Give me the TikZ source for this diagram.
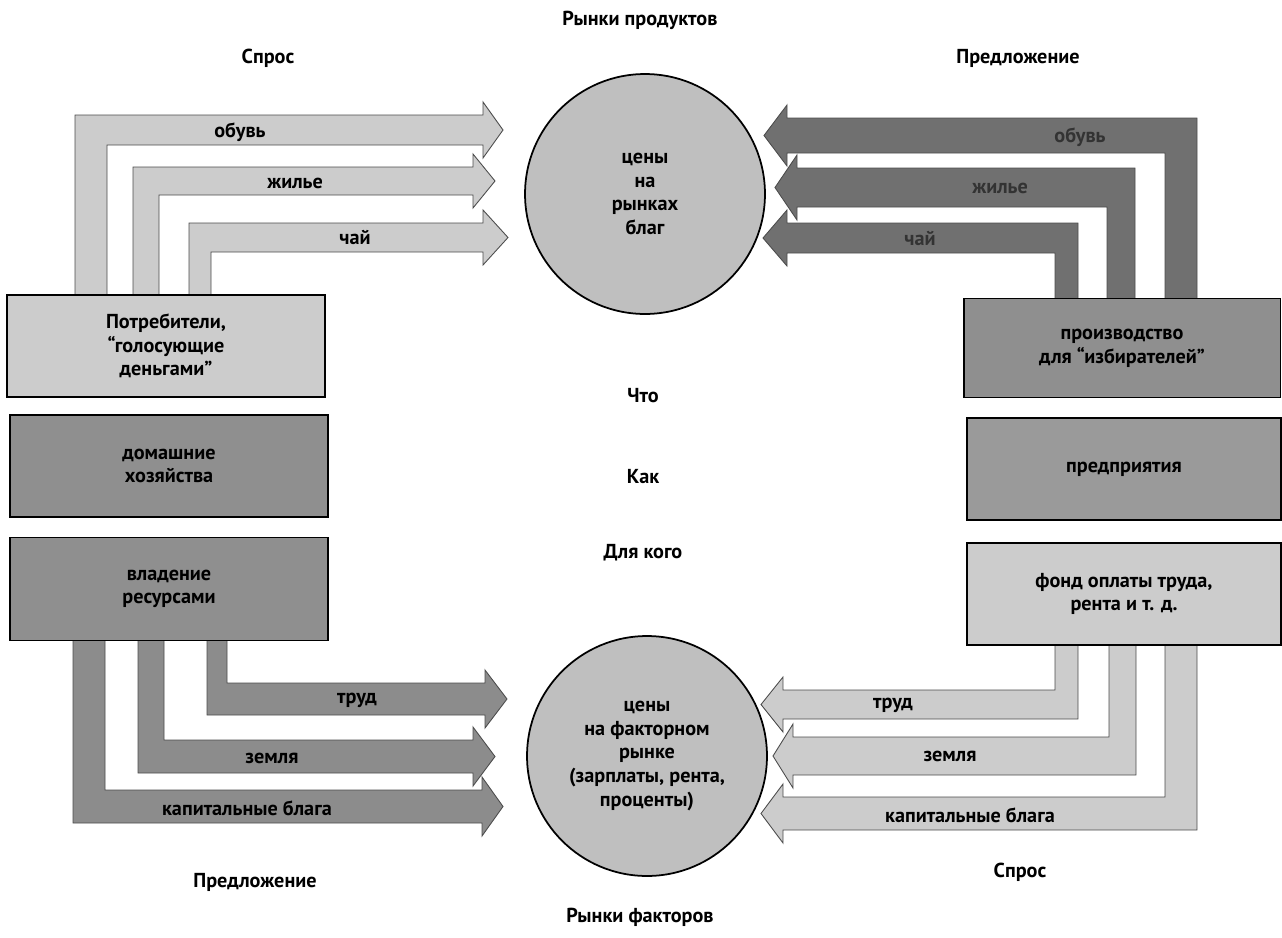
\documentclass[tikz,border=0pt]{standalone}
\usepackage{fontspec}
\setmainfont{PT Sans}
\usetikzlibrary{calc}
\usetikzlibrary{positioning}

\definecolor{lightgrain}{gray}{0.80}
\definecolor{midgrain}{gray}{0.55}
\definecolor{darkgrain}{gray}{0.44}
\definecolor{boxdark}{gray}{0.56}
\definecolor{marketfill}{gray}{0.75}

% band arrow: style, box, outer x, inner x, outer y, inner y, head base x, tip x
\newcommand{\bandarrow}[8]{%
  \draw[#1] (#3,0 |- #2) -- (#3,#5) -- (#7,#5) -- (#7,{#5+13*sign(#5-#6)})
    -- (#8,{(#5+#6)/2}) -- (#7,{#6-13*sign(#5-#6)}) -- (#7,#6) -- (#4,#6)
    -- (#4,0 |- #2) -- cycle;}

\begin{document}
\begin{tikzpicture}[x=0.02cm, y=-0.02cm,
    every node/.style={font=\bfseries\fontsize{11.5}{13.5}\selectfont, align=center},
    band/.style={draw=black!70, line width=0.5pt, fill=#1},
    agent/.style={draw, line width=1.1pt, fill=#1, inner sep=0pt},
    market/.style={draw, circle, line width=1pt, fill=marketfill, minimum size=4.8cm, inner sep=0pt}
  ]
  \useasboundingbox (0,0) rectangle (1282,937);

  \coordinate (cons) at (166,346);
  \coordinate (prod) at (1122,348);
  \coordinate (res) at (169,589);
  \coordinate (fund) at (1124,594);

  % product markets
  \bandarrow{band=lightgrain}{cons}{75}{107}{115}{145}{483}{503}
  \bandarrow{band=lightgrain}{cons}{133}{159}{167}{195}{473}{495}
  \bandarrow{band=lightgrain}{cons}{189}{211}{223}{252}{483}{508}
  \bandarrow{band=darkgrain}{prod}{1197}{1165}{118}{153}{787}{764}
  \bandarrow{band=darkgrain}{prod}{1135}{1107}{168}{207}{797}{775}
  \bandarrow{band=darkgrain}{prod}{1078}{1055}{223}{253}{787}{763}

  % factor markets
  \bandarrow{band=midgrain}{res}{207}{227}{715}{683}{485}{507}
  \bandarrow{band=midgrain}{res}{138}{164}{773}{740}{473}{495}
  \bandarrow{band=midgrain}{res}{73}{105}{823}{790}{482}{503}
  \bandarrow{band=lightgrain}{fund}{1078}{1055}{719}{690}{783}{761}
  \bandarrow{band=lightgrain}{fund}{1136}{1109}{775}{737}{793}{773}
  \bandarrow{band=lightgrain}{fund}{1197}{1165}{830}{797}{783}{761}

  \node[agent=lightgrain, minimum width=6.36cm, minimum height=2.04cm] (consumers) at (cons) {Потребители,\\“голосующие\\деньгами”};
  \node[agent=boxdark, minimum width=6.36cm, minimum height=2.04cm] (households) at (169,466) {домашние\\хозяйства};
  \node[agent=boxdark, minimum width=6.36cm, minimum height=2.06cm] (owners) at (res) {владение\\ресурсами};
  \node[agent=boxdark, minimum width=6.34cm, minimum height=1.98cm] (production) at (prod) {производство\\для “избирателей”};
  \node[agent=boxdark!90!white, minimum width=6.28cm, minimum height=2.04cm] (firms) at (1124,469) {предприятия};
  \node[agent=lightgrain, minimum width=6.28cm, minimum height=2.04cm] (payroll) at (fund) {фонд оплаты труда,\\рента и т. д.};

  \node[market] (goods) at (645,194) {цены\\на\\рынках\\благ};
  \node[market] (factors) at (647,756) {цены\\на факторном\\рынке\\(зарплаты, рента,\\проценты)};

  \node (lshoes) at (240,132) {обувь};
  \node (lhouse) at (295,183) {жилье};
  \node (ltea) at (355,237) {чай};
  \node[text=black!80] (rshoes) at (1080,137) {обувь};
  \node[text=black!80] (rhouse) at (1000,188) {жилье};
  \node[text=black!80] (rtea) at (920,238) {чай};
  \node (llabour) at (357,700) {труд};
  \node (lland) at (272,758) {земля};
  \node (lcapital) at (247,808) {капитальные блага};
  \node (rlabour) at (893,705) {труд};
  \node (rland) at (950,756) {земля};
  \node (rcapital) at (970,815) {капитальные блага};

  \node (top) at (640,20) {Рынки продуктов};
  \node (bottom) at (640,917) {Рынки факторов};
  \node (demtop) at (268,58) {Спрос};
  \node (suptop) at (1018,58) {Предложение};
  \node (supbot) at (255,882) {Предложение};
  \node (dembot) at (1020,872) {Спрос};
  \node (what) at (643,396) {Что};
  \node (how) at (643,477) {Как};
  \node (whom) at (643,553) {Для кого};
\end{tikzpicture}
\end{document}
